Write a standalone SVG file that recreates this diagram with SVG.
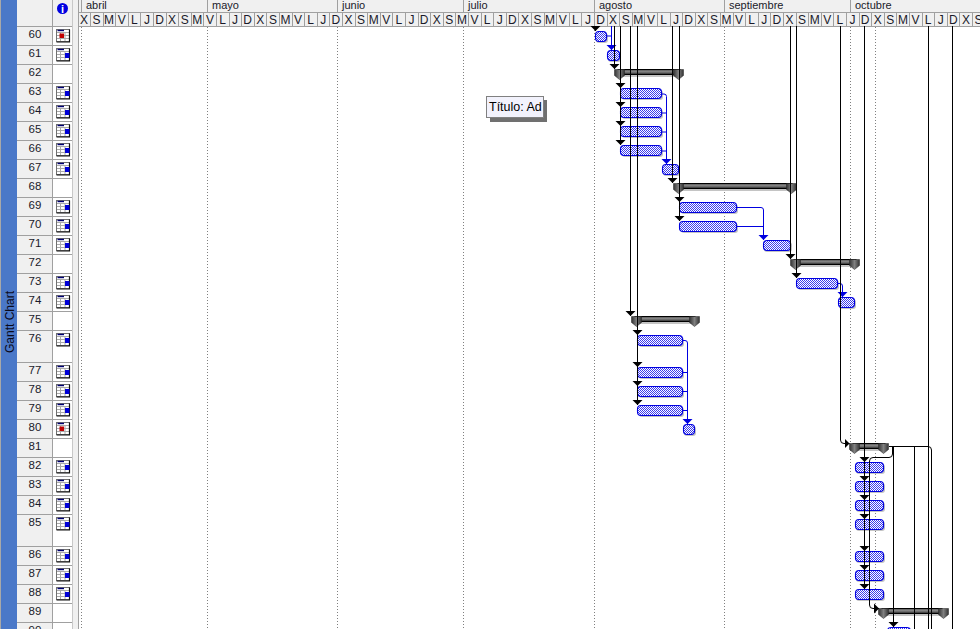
<svg xmlns="http://www.w3.org/2000/svg" width="980" height="629" viewBox="0 0 980 629">
<style>
text{font-family:"Liberation Sans",Arial,sans-serif;font-size:11px;fill:#1a1a2a}
.d{text-anchor:middle;font-size:12px}
.n{text-anchor:middle;font-size:11.5px}
.g{fill:none;stroke:#a0a0a0;stroke-width:1;shape-rendering:crispEdges}
.l{fill:none;stroke:#c8c8c8;stroke-width:1;shape-rendering:crispEdges}
.dot{fill:none;stroke:#808080;stroke-width:1;stroke-dasharray:1 2;shape-rendering:crispEdges}
.k{fill:none;stroke:#000;stroke-width:1}
.ka{fill:none;stroke:#000;stroke-width:1;marker-end:url(#ah)}
.b{fill:none;stroke:#0000e0;stroke-width:1}
.ba{fill:none;stroke:#0000e0;stroke-width:1;marker-end:url(#bh)}
.t{fill:url(#dith);stroke:#0000e0;stroke-width:1.1}
.s{fill:#c4c4c4}
.sb{fill:url(#barg);stroke:#000;stroke-width:1}
</style>
<defs>
<pattern id="dith" patternUnits="userSpaceOnUse" width="2" height="2"><rect width="2" height="2" fill="#fff"/><rect width="1" height="1" fill="#3a3aee"/><rect x="1" y="1" width="1" height="1" fill="#3a3aee"/></pattern>
<linearGradient id="barg" x1="0" y1="0" x2="0" y2="1"><stop offset="0" stop-color="#555"/><stop offset="0.45" stop-color="#888"/><stop offset="1" stop-color="#222"/></linearGradient>
<linearGradient id="capg" x1="0" y1="0" x2="1" y2="0"><stop offset="0" stop-color="#333"/><stop offset="0.5" stop-color="#808080"/><stop offset="1" stop-color="#333"/></linearGradient>
<marker id="ah" markerUnits="userSpaceOnUse" markerWidth="5" markerHeight="11" refX="5" refY="5.5" orient="auto"><path d="M0,0.5L5,5.5L0,10.5Z" fill="#000"/></marker>
<marker id="bh" markerUnits="userSpaceOnUse" markerWidth="5" markerHeight="11" refX="5" refY="5.5" orient="auto"><path d="M0,0.5L5,5.5L0,10.5Z" fill="#0000e0"/></marker>
<path id="cap" d="M0,0H10V6L5,10L0,6Z" fill="url(#capg)" stroke="#222" stroke-width="0.5"/>
<g id="ic"><rect x="0.5" y="0.5" width="13" height="12" fill="#fff" stroke="#707070"/><path d="M4.5,3V12M9,3V12M1,3.5H13M1,6.5H13M1,9.5H13" stroke="#aaa" fill="none"/><path d="M1.5,1.5H8" stroke="#000070" stroke-width="1.4"/><path d="M0.5,13H13.5V0.5" stroke="#111" stroke-width="1.2" fill="none"/></g>
<g id="icb"><use href="#ic"/><rect x="9" y="5" width="4.5" height="5" fill="#0000d8"/></g>
<g id="icr"><use href="#ic"/><rect x="3.5" y="4.5" width="4.5" height="4.5" fill="#c00000"/></g>
</defs>
<rect width="980" height="629" fill="#fff"/>
<g id="sidebar">
<rect x="0" y="0" width="17" height="629" fill="#4a78c8"/>
<rect x="0" y="0" width="1" height="629" fill="#a8a8a8"/>
<text transform="translate(14 353) rotate(-90)" style="font-size:12px;fill:#0a0a1a">Gantt Chart</text>
</g>
<g id="row-headers">
<rect x="17" y="0" width="36" height="629" fill="#f0f0f0"/>
<rect x="53" y="0" width="19" height="26" fill="#f0f0f0"/>
<rect x="72" y="0" width="7" height="629" fill="#f0f0f0"/>
<path class="g" d="M52.5,0V629M78.5,0V629"/><path class="l" d="M72.5,0V629"/>
<path class="g" d="M17,26.5H72M17,45.5H72M17,64.5H72M17,83.5H72M17,102.5H72M17,121.5H72M17,140.5H72M17,159.5H72M17,178.5H72M17,197.5H72M17,216.5H72M17,235.5H72M17,254.5H72M17,273.5H72M17,292.5H72M17,311.5H72M17,330.5H72M17,362.5H72M17,381.5H72M17,400.5H72M17,419.5H72M17,438.5H72M17,457.5H72M17,476.5H72M17,495.5H72M17,514.5H72M17,546.5H72M17,565.5H72M17,584.5H72M17,603.5H72M17,622.5H72"/>
<circle cx="62.5" cy="8.5" r="5.5" fill="#0000e0"/>
<text x="62.5" y="12.5" style="font-size:11px;font-weight:bold;fill:#fff;text-anchor:middle">i</text>
<text class="n" x="35" y="38">60</text><text class="n" x="35" y="57">61</text><text class="n" x="35" y="76">62</text><text class="n" x="35" y="95">63</text><text class="n" x="35" y="114">64</text><text class="n" x="35" y="133">65</text><text class="n" x="35" y="152">66</text><text class="n" x="35" y="171">67</text><text class="n" x="35" y="190">68</text><text class="n" x="35" y="209">69</text><text class="n" x="35" y="228">70</text><text class="n" x="35" y="247">71</text><text class="n" x="35" y="266">72</text><text class="n" x="35" y="285">73</text><text class="n" x="35" y="304">74</text><text class="n" x="35" y="323">75</text><text class="n" x="35" y="342">76</text><text class="n" x="35" y="374">77</text><text class="n" x="35" y="393">78</text><text class="n" x="35" y="412">79</text><text class="n" x="35" y="431">80</text><text class="n" x="35" y="450">81</text><text class="n" x="35" y="469">82</text><text class="n" x="35" y="488">83</text><text class="n" x="35" y="507">84</text><text class="n" x="35" y="526">85</text><text class="n" x="35" y="558">86</text><text class="n" x="35" y="577">87</text><text class="n" x="35" y="596">88</text><text class="n" x="35" y="615">89</text><text class="n" x="35" y="634">90</text>
<use href="#icr" x="56" y="29"/><use href="#icb" x="56" y="48"/><use href="#icb" x="56" y="86"/><use href="#icb" x="56" y="105"/><use href="#icb" x="56" y="124"/><use href="#icb" x="56" y="143"/><use href="#icb" x="56" y="162"/><use href="#icb" x="56" y="200"/><use href="#icb" x="56" y="219"/><use href="#icb" x="56" y="238"/><use href="#icb" x="56" y="276"/><use href="#icb" x="56" y="295"/><use href="#icb" x="56" y="333"/><use href="#icb" x="56" y="365"/><use href="#icb" x="56" y="384"/><use href="#icb" x="56" y="403"/><use href="#icr" x="56" y="422"/><use href="#icb" x="56" y="460"/><use href="#icb" x="56" y="479"/><use href="#icb" x="56" y="498"/><use href="#icb" x="56" y="517"/><use href="#icb" x="56" y="549"/><use href="#icb" x="56" y="568"/><use href="#icb" x="56" y="587"/>
</g>
<g id="timescale">
<rect x="79" y="0" width="901" height="26" fill="#f0f0f0"/>
<path class="g" d="M79,12.5H980M79,26.5H980"/>
<path class="g" d="M81.5,0V13M207.5,0V13M337.5,0V13M463.5,0V13M594.5,0V13M724.5,0V13M850.5,0V13"/>
<path class="g" d="M90.4,13V26M103,13V26M115.6,13V26M128.2,13V26M140.8,13V26M153.4,13V26M166,13V26M178.6,13V26M191.2,13V26M203.8,13V26M216.4,13V26M229,13V26M241.6,13V26M254.2,13V26M266.8,13V26M279.4,13V26M292,13V26M304.6,13V26M317.2,13V26M329.8,13V26M342.4,13V26M355,13V26M367.6,13V26M380.2,13V26M392.8,13V26M405.4,13V26M418,13V26M430.6,13V26M443.2,13V26M455.8,13V26M468.4,13V26M481,13V26M493.6,13V26M506.2,13V26M518.8,13V26M531.4,13V26M544,13V26M556.6,13V26M569.2,13V26M581.8,13V26M594.4,13V26M607,13V26M619.6,13V26M632.2,13V26M644.8,13V26M657.4,13V26M670,13V26M682.6,13V26M695.2,13V26M707.8,13V26M720.4,13V26M733,13V26M745.6,13V26M758.2,13V26M770.8,13V26M783.4,13V26M796,13V26M808.6,13V26M821.2,13V26M833.8,13V26M846.4,13V26M859,13V26M871.6,13V26M884.2,13V26M896.8,13V26M909.4,13V26M922,13V26M934.6,13V26M947.2,13V26M959.8,13V26M972.4,13V26"/>
<text x="86" y="9">abril</text><text x="212" y="9">mayo</text><text x="342" y="9">junio</text><text x="468" y="9">julio</text><text x="599" y="9">agosto</text><text x="729" y="9">septiembre</text><text x="855" y="9">octubre</text>
<g transform="translate(-1.4 23.5)">
<text class="d" x="85.3">X</text><text class="d" x="97.9">S</text><text class="d" x="110.5">M</text><text class="d" x="123.1">V</text><text class="d" x="135.7">L</text><text class="d" x="148.3">J</text><text class="d" x="160.9">D</text><text class="d" x="173.5">X</text><text class="d" x="186.1">S</text><text class="d" x="198.7">M</text><text class="d" x="211.3">V</text><text class="d" x="223.9">L</text><text class="d" x="236.5">J</text><text class="d" x="249.1">D</text><text class="d" x="261.7">X</text><text class="d" x="274.3">S</text><text class="d" x="286.9">M</text><text class="d" x="299.5">V</text><text class="d" x="312.1">L</text><text class="d" x="324.7">J</text><text class="d" x="337.3">D</text><text class="d" x="349.9">X</text><text class="d" x="362.5">S</text><text class="d" x="375.1">M</text><text class="d" x="387.7">V</text><text class="d" x="400.3">L</text><text class="d" x="412.9">J</text><text class="d" x="425.5">D</text><text class="d" x="438.1">X</text><text class="d" x="450.7">S</text><text class="d" x="463.3">M</text><text class="d" x="475.9">V</text><text class="d" x="488.5">L</text><text class="d" x="501.1">J</text><text class="d" x="513.7">D</text><text class="d" x="526.3">X</text><text class="d" x="538.9">S</text><text class="d" x="551.5">M</text><text class="d" x="564.1">V</text><text class="d" x="576.7">L</text><text class="d" x="589.3">J</text><text class="d" x="601.9">D</text><text class="d" x="614.5">X</text><text class="d" x="627.1">S</text><text class="d" x="639.7">M</text><text class="d" x="652.3">V</text><text class="d" x="664.9">L</text><text class="d" x="677.5">J</text><text class="d" x="690.1">D</text><text class="d" x="702.7">X</text><text class="d" x="715.3">S</text><text class="d" x="727.9">M</text><text class="d" x="740.5">V</text><text class="d" x="753.1">L</text><text class="d" x="765.7">J</text><text class="d" x="778.3">D</text><text class="d" x="790.9">X</text><text class="d" x="803.5">S</text><text class="d" x="816.1">M</text><text class="d" x="828.7">V</text><text class="d" x="841.3">L</text><text class="d" x="853.9">J</text><text class="d" x="866.5">D</text><text class="d" x="879.1">X</text><text class="d" x="891.7">S</text><text class="d" x="904.3">M</text><text class="d" x="916.9">V</text><text class="d" x="929.5">L</text><text class="d" x="942.1">J</text><text class="d" x="954.7">D</text><text class="d" x="967.3">X</text><text class="d" x="979.9">S</text>
</g>
</g>
<g id="gridlines">
<path class="dot" d="M81.5,27V629M207.5,27V629M337.5,27V629M463.5,27V629M594.5,27V629M724.5,27V629M850.5,27V629M875.5,27V629"/>
</g>
<g id="tasks">
<g id="task-60"><rect class="s" x="596" y="33" width="12" height="10" rx="3"/><rect class="t" x="595.5" y="31.5" width="11" height="10" rx="3.5"/></g>
<g id="task-61"><rect class="s" x="608" y="52" width="13" height="10" rx="3"/><rect class="t" x="607.5" y="50.5" width="12" height="10" rx="3.5"/></g>
<g id="summary-62"><rect class="s" x="620" y="75" width="58" height="2"/><rect class="sb" x="618" y="69.5" width="62" height="5"/><use href="#cap" x="614.5" y="69.5"/><use href="#cap" x="673.5" y="69.5"/></g>
<g id="task-63"><rect class="s" x="622" y="90" width="41" height="10" rx="3"/><rect class="t" x="620.5" y="88.5" width="41" height="10" rx="3.5"/></g>
<g id="task-64"><rect class="s" x="622" y="109" width="41" height="10" rx="3"/><rect class="t" x="620.5" y="107.5" width="41" height="10" rx="3.5"/></g>
<g id="task-65"><rect class="s" x="622" y="128" width="41" height="10" rx="3"/><rect class="t" x="620.5" y="126.5" width="41" height="10" rx="3.5"/></g>
<g id="task-66"><rect class="s" x="622" y="147" width="41" height="10" rx="3"/><rect class="t" x="620.5" y="145.5" width="41" height="10" rx="3.5"/></g>
<g id="task-67"><rect class="s" x="663" y="166" width="17" height="10" rx="3"/><rect class="t" x="662.5" y="164.5" width="16" height="10" rx="3.5"/></g>
<g id="summary-68"><rect class="s" x="680" y="189" width="112" height="2"/><rect class="sb" x="678" y="183.5" width="114" height="5"/><use href="#cap" x="673.5" y="183.5"/><use href="#cap" x="786.5" y="183.5"/></g>
<g id="task-69"><rect class="s" x="681" y="204" width="57" height="10" rx="3"/><rect class="t" x="679.5" y="202.5" width="57" height="10" rx="3.5"/></g>
<g id="task-70"><rect class="s" x="681" y="223" width="57" height="10" rx="3"/><rect class="t" x="679.5" y="221.5" width="57" height="10" rx="3.5"/></g>
<g id="task-71"><rect class="s" x="764" y="242" width="28" height="10" rx="3"/><rect class="t" x="763.5" y="240.5" width="27" height="10" rx="3.5"/></g>
<g id="summary-72"><rect class="s" x="796" y="265" width="60" height="2"/><rect class="sb" x="794" y="259.5" width="62" height="5"/><use href="#cap" x="790.5" y="259.5"/><use href="#cap" x="849.5" y="259.5"/></g>
<g id="task-73"><rect class="s" x="798" y="280" width="41" height="10" rx="3"/><rect class="t" x="796.5" y="278.5" width="41" height="10" rx="3.5"/></g>
<g id="task-74"><rect class="s" x="839" y="299" width="17" height="10" rx="3"/><rect class="t" x="838.5" y="297.5" width="16" height="10" rx="3.5"/></g>
<g id="summary-75"><rect class="s" x="637" y="322" width="58" height="2"/><rect class="sb" x="635" y="316.5" width="60" height="5"/><use href="#cap" x="631.5" y="316.5"/><use href="#cap" x="689.5" y="316.5"/></g>
<g id="task-76"><rect class="s" x="639" y="337" width="45" height="10" rx="3"/><rect class="t" x="637.5" y="335.5" width="45" height="10" rx="3.5"/></g>
<g id="task-77"><rect class="s" x="639" y="369" width="45" height="10" rx="3"/><rect class="t" x="637.5" y="367.5" width="45" height="10" rx="3.5"/></g>
<g id="task-78"><rect class="s" x="639" y="388" width="45" height="10" rx="3"/><rect class="t" x="637.5" y="386.5" width="45" height="10" rx="3.5"/></g>
<g id="task-79"><rect class="s" x="639" y="407" width="45" height="10" rx="3"/><rect class="t" x="637.5" y="405.5" width="45" height="10" rx="3.5"/></g>
<g id="task-80"><rect class="s" x="684" y="426" width="12" height="10" rx="3"/><rect class="t" x="683.5" y="424.5" width="11" height="10" rx="3.5"/></g>
<g id="summary-81"><rect class="s" x="855" y="449" width="30" height="2"/><rect class="sb" x="853" y="443.5" width="32" height="5"/><use href="#cap" x="849.5" y="443.5"/><use href="#cap" x="878.5" y="443.5"/></g>
<g id="task-82"><rect class="s" x="856" y="464" width="29" height="10" rx="3"/><rect class="t" x="855.5" y="462.5" width="28" height="10" rx="3.5"/></g>
<g id="task-83"><rect class="s" x="856" y="483" width="29" height="10" rx="3"/><rect class="t" x="855.5" y="481.5" width="28" height="10" rx="3.5"/></g>
<g id="task-84"><rect class="s" x="856" y="502" width="29" height="10" rx="3"/><rect class="t" x="855.5" y="500.5" width="28" height="10" rx="3.5"/></g>
<g id="task-85"><rect class="s" x="856" y="521" width="29" height="10" rx="3"/><rect class="t" x="855.5" y="519.5" width="28" height="10" rx="3.5"/></g>
<g id="task-86"><rect class="s" x="856" y="553" width="29" height="10" rx="3"/><rect class="t" x="855.5" y="551.5" width="28" height="10" rx="3.5"/></g>
<g id="task-87"><rect class="s" x="856" y="572" width="29" height="10" rx="3"/><rect class="t" x="855.5" y="570.5" width="28" height="10" rx="3.5"/></g>
<g id="task-88"><rect class="s" x="856" y="591" width="29" height="10" rx="3"/><rect class="t" x="855.5" y="589.5" width="28" height="10" rx="3.5"/></g>
<g id="summary-89"><rect class="s" x="884" y="614" width="60" height="2"/><rect class="sb" x="882" y="608.5" width="60" height="5"/><use href="#cap" x="878.5" y="608.5"/><use href="#cap" x="938.5" y="608.5"/></g>
<g id="task-90"><rect class="t" x="887.5" y="627.5" width="23" height="10" rx="3.5"/></g>
</g>
<g id="connectors">
<path class="ka" d="M595.5,26V31"/>
<path class="ba" d="M611.5,26V50"/><path class="b" d="M606.5,36H611.5"/>
<path class="ka" d="M614.5,26V69"/>
<path class="ka" d="M620.5,26V88"/><path class="ka" d="M620.5,26V107"/><path class="ka" d="M620.5,26V126"/><path class="ka" d="M620.5,26V145"/>
<path class="ka" d="M630.5,26V316"/>
<path class="ka" d="M637.5,26V335"/><path class="ka" d="M637.5,26V367"/><path class="ka" d="M637.5,26V386"/><path class="ka" d="M637.5,26V405"/>
<path class="ka" d="M672.5,26V183"/>
<path class="ka" d="M679.5,26V202"/><path class="ka" d="M679.5,26V221"/>
<path class="ka" d="M790.5,26V259"/>
<path class="ka" d="M796.5,26V278"/>
<path class="ba" d="M661.5,94H664Q666.5,94 666.5,96.5V164"/><path class="b" d="M661.5,113H666.5M661.5,132H666.5M661.5,151H666.5"/>
<path class="ba" d="M736.5,207.5H761Q763.5,207.5 763.5,210V240"/><path class="b" d="M736.5,226.5H763.5"/>
<path class="ba" d="M837.5,283.5H840Q842.5,283.5 842.5,286V297"/>
<path class="ba" d="M682.5,340.5H685Q687.5,340.5 687.5,343V424"/><path class="b" d="M682.5,372.5H687.5M682.5,391.5H687.5M682.5,410.5H687.5"/>
<path class="ka" d="M840.5,26V440Q840.5,443.5 844,443.5H849.5"/>
<path class="ka" d="M864.5,26V462"/><path class="ka" d="M864.5,26V481"/><path class="ka" d="M864.5,26V500"/><path class="ka" d="M864.5,26V519"/><path class="ka" d="M864.5,26V551"/><path class="ka" d="M864.5,26V570"/><path class="ka" d="M864.5,26V589"/>
<path class="k" d="M889,446.5H928Q931.5,446.5 931.5,450V629"/>
<path class="k" d="M914.5,446.5V629"/>
<path class="ka" d="M893.5,446.5V627"/>
<path class="ka" d="M892.5,446.5V454Q892.5,457.5 889,457.5H873Q869.5,457.5 869.5,461V605Q869.5,608.5 873,608.5H879"/>
<path class="k" d="M928.5,26V629"/>
<path class="k" d="M952.5,26V629"/>
</g>
<g id="tooltip">
<rect x="490" y="100" width="57" height="22" fill="#707070"/>
<rect x="486.5" y="96.5" width="57" height="21" fill="#f2f2fc" stroke="#808080"/>
<text x="489" y="111" style="font-size:12.5px;fill:#000">Título: Ad</text>
</g>
</svg>
